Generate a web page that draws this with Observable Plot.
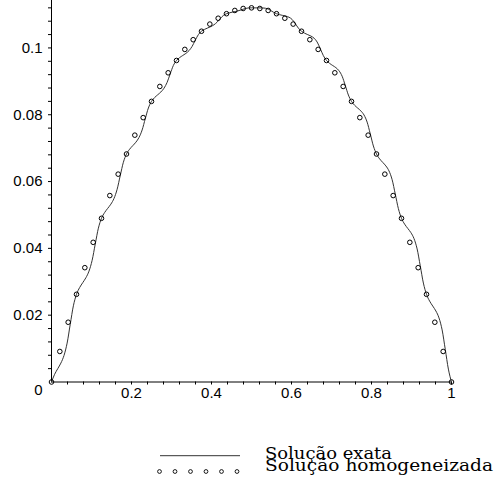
<!DOCTYPE html>
<html><head><meta charset="utf-8">
<script src="https://cdn.jsdelivr.net/npm/d3@7"></script>
<script src="https://cdn.jsdelivr.net/npm/@observablehq/plot@0.6"></script>
<style>body{margin:0;background:#fff;} #chart svg{display:block}</style>
</head><body><div id="chart"></div>
<script>
// Exact solution (wiggly curve), sampled on a uniform grid over [0,1]
const exactY = [
0, 0.00231, 0.00399, 0.00566, 0.00794, 0.01165, 0.01730, 0.02281,
0.02625, 0.02827, 0.02974, 0.03120, 0.03319, 0.03642, 0.04130, 0.04605,
0.04900, 0.05073, 0.05199, 0.05324, 0.05494, 0.05768, 0.06180, 0.06578,
0.06825, 0.06969, 0.07074, 0.07178, 0.07319, 0.07544, 0.07880, 0.08202,
0.08400, 0.08515, 0.08599, 0.08682, 0.08794, 0.08970, 0.09230, 0.09476,
0.09625, 0.09711, 0.09774, 0.09836, 0.09919, 0.10047, 0.10230, 0.10399,
0.10500, 0.10557, 0.10599, 0.10640, 0.10694, 0.10773, 0.10880, 0.10973,
0.11025, 0.11053, 0.11073, 0.11094, 0.11119, 0.11149, 0.11180, 0.11197,
0.11200, 0.11199, 0.11198, 0.11198, 0.11194, 0.11175, 0.11130, 0.11070,
0.11025, 0.10995, 0.10973, 0.10952, 0.10919, 0.10852, 0.10730, 0.10594,
0.10500, 0.10441, 0.10398, 0.10356, 0.10294, 0.10178, 0.09980, 0.09768,
0.09625, 0.09537, 0.09473, 0.09410, 0.09318, 0.09154, 0.08879, 0.08591,
0.08400, 0.08283, 0.08198, 0.08114, 0.07993, 0.07780, 0.07430, 0.07065,
0.06825, 0.06679, 0.06573, 0.06468, 0.06318, 0.06057, 0.05629, 0.05189,
0.04900, 0.04725, 0.04598, 0.04472, 0.04293, 0.03983, 0.03479, 0.02962,
0.02625, 0.02421, 0.02273, 0.02126, 0.01918, 0.01559, 0.00979, 0.00386,
0];
// Homogenized solution (circles), 49 evenly spaced points over [0,1]
const homY = [
0, 0.00914, 0.01789, 0.02625, 0.03422, 0.04181, 0.04900, 0.05581,
0.06222, 0.06825, 0.07389, 0.07914, 0.08400, 0.08847, 0.09256, 0.09625,
0.09956, 0.10247, 0.10500, 0.10714, 0.10889, 0.11025, 0.11122, 0.11181,
0.11200,
0.11181, 0.11122, 0.11025, 0.10889, 0.10714, 0.10500, 0.10247, 0.09956,
0.09625, 0.09256, 0.08847, 0.08400, 0.07914, 0.07389, 0.06825, 0.06222,
0.05581, 0.04900, 0.04181, 0.03422, 0.02625, 0.01789, 0.00914, 0];

const xTicks = [0.2, 0.4, 0.6, 0.8, 1];
const xMinor = [0.04,0.08,0.12,0.16,0.24,0.28,0.32,0.36,0.44,0.48,0.52,0.56,0.64,0.68,0.72,0.76,0.84,0.88,0.92,0.96];
const yTicks = [0.02, 0.04, 0.06, 0.08, 0.1];
const yMinor = [0.004,0.008,0.012,0.016,0.024,0.028,0.032,0.036,0.044,0.048,0.052,0.056,0.064,0.068,0.072,0.076,0.084,0.088,0.092,0.096,0.104,0.108,0.112];
const legendLabels = ["Solução exata", "Solução homogeneizada"];

const exact = exactY.map((y, i) => ({x: i / (exactY.length - 1), y}));
const hom = homY.map((y, i) => ({x: i / (homY.length - 1), y}));

const plot = Plot.plot({
  width: 496, height: 420,
  marginLeft: 51, marginRight: 45, marginTop: 0, marginBottom: 38.5,
  x: {domain: [0, 1], label: null},
  y: {domain: [0, 0.1142], label: null},
  style: {fontFamily: "'Liberation Sans', Arial, sans-serif", fontSize: "15px", color: "#000", background: "#fff"},
  marks: [
    Plot.axisX({ticks: xMinor, tickSize: 3, tickFormat: () => "", label: null}),
    Plot.axisX({ticks: xTicks, tickSize: 3, tickPadding: 2, tickFormat: d => String(d), label: null}),
    Plot.axisY({ticks: yMinor, tickSize: 3, tickFormat: () => "", label: null}),
    Plot.axisY({ticks: yTicks, tickSize: 3, tickPadding: 6, tickFormat: d => String(d), label: null}),
    Plot.ruleY([0], {x1: 0, x2: 1, stroke: "#000"}),
    Plot.ruleX([0], {y1: 0, y2: 0.1142, stroke: "#000"}),
    Plot.text([0], {x: 0, y: 0, text: d => String(d), dx: -9, dy: 8, textAnchor: "end"}),
    Plot.line(exact, {x: "x", y: "y", stroke: "#333", strokeWidth: 1, curve: "monotone-x"}),
    Plot.dot(hom, {x: "x", y: "y", r: 2.3, stroke: "#000", fill: "none", strokeWidth: 1})
  ]
});
document.getElementById("chart").appendChild(plot);

// Legend below the plot
const leg = d3.select("#chart").append("svg").attr("width", 496).attr("height", 68);
leg.append("line").attr("x1", 160).attr("x2", 240).attr("y1", 35.7).attr("y2", 35.7)
  .attr("stroke", "#333").attr("stroke-width", 1);
[159.5, 175, 190.5, 206, 221.5, 237].forEach(cx =>
  leg.append("circle").attr("cx", cx).attr("cy", 51.5).attr("r", 1.9)
    .attr("fill", "none").attr("stroke", "#000").attr("stroke-width", 0.9));
const legText = [[39.3, 127], [50.5, 228]];
legendLabels.forEach((t, i) =>
  leg.append("text").attr("x", 265).attr("y", legText[i][0])
    .attr("textLength", legText[i][1]).attr("lengthAdjust", "spacingAndGlyphs")
    .attr("font-family", "'DejaVu Serif', serif").attr("font-size", 17)
    .attr("fill", "#000").text(t));
</script>
</body></html>
